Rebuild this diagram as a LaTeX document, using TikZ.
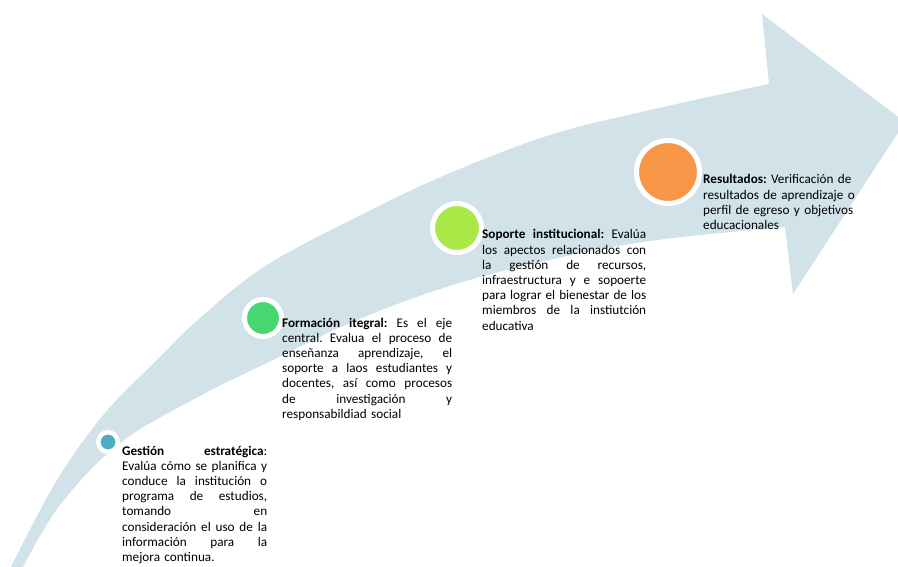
\documentclass[tikz,border=0pt]{standalone}
\usepackage{fontspec}
\setmainfont{Carlito}
\frenchspacing
\definecolor{arrowblue}{RGB}{209,226,233}
\definecolor{gcol}{RGB}{75,172,198}
\definecolor{fcol}{RGB}{72,214,112}
\definecolor{scol}{RGB}{170,232,72}
\definecolor{rcol}{RGB}{247,150,70}
\newcommand\jl[2]{\makebox[#1pt][s]{\spaceskip=0pt\relax\xspaceskip=0pt\relax #2}}
\begin{document}
\begin{tikzpicture}[x=1pt,y=-1pt,
  dot/.style={circle,draw=white,inner sep=0pt},
  txt/.style={inner sep=0pt,anchor=base west,align=left,
    font=\fontsize{13.2}{15.2}\selectfont}]
\useasboundingbox (0,0) rectangle (898,567);
\begin{scope}
\clip (0,0) rectangle (898,567);
\fill[arrowblue] plot[smooth,tension=0.6] coordinates{(10,569) (57,480) (105,413) (157,360) (200,318) (267,265) (367,212) (450,173) (550,135) (650,110) (769,84)}
  -- (762,14) -- (905,122) -- (793,294) -- (785,227)
  -- plot[smooth,tension=0.6] coordinates{(785,227) (650,241) (540,262) (440,289) (350,323) (273,360) (200,396) (120,443) (60,505) (22,569)} -- cycle;
\end{scope}
% circles
\node[dot,fill=gcol,minimum size=19.5pt,line width=4.5pt] (c1) at (108,442) {};
\node[dot,fill=fcol,minimum size=37pt,line width=5pt] (c2) at (263,318) {};
\node[dot,fill=scol,minimum size=49pt,line width=5pt] (c3) at (457,228) {};
\node[dot,fill=rcol,minimum size=63pt,line width=5pt] (c4) at (668,172) {};
% texts
\node[txt,text width=145pt] (t1) at (122,455) {%
\jl{145}{\textbf{Gestión} \hfill \textbf{estratégica}:}\\
\jl{145}{Evalúa cómo se planifica y}\\
\jl{145}{conduce la institución o}\\
\jl{145}{programa de estudios,}\\
\jl{145}{tomando \hfill en}\\
\jl{145}{consideración el uso de la}\\
\jl{145}{información para la}\\
mejora continua.};
\node[txt,text width=170pt] (t2) at (282,327) {%
\jl{170}{\textbf{Formación itegral:} Es el eje}\\
\jl{170}{central. Evalua el proceso de}\\
\jl{170}{enseñanza aprendizaje, el}\\
\jl{170}{soporte a laos estudiantes y}\\
\jl{170}{docentes, así como procesos}\\
\jl{170}{de investigación y}\\
responsabildiad social};
\node[txt,text width=164pt] (t3) at (482,239) {%
\jl{164}{\textbf{Soporte institucional:} Evalúa}\\
\jl{164}{los apectos relacionados con}\\
\jl{164}{la gestión de recursos,}\\
\jl{164}{infraestructura y e sopoerte}\\
\jl{164}{para lograr el bienestar de los}\\
\jl{164}{miembros de la instiutción}\\
educativa};
\node[txt,text width=170pt] (t4) at (703,184) {%
\textbf{Resultados:} Verificación de\\
resultados de aprendizaje o\\
perfil de egreso y objetivos\\
educacionales};
\end{tikzpicture}
\end{document}
